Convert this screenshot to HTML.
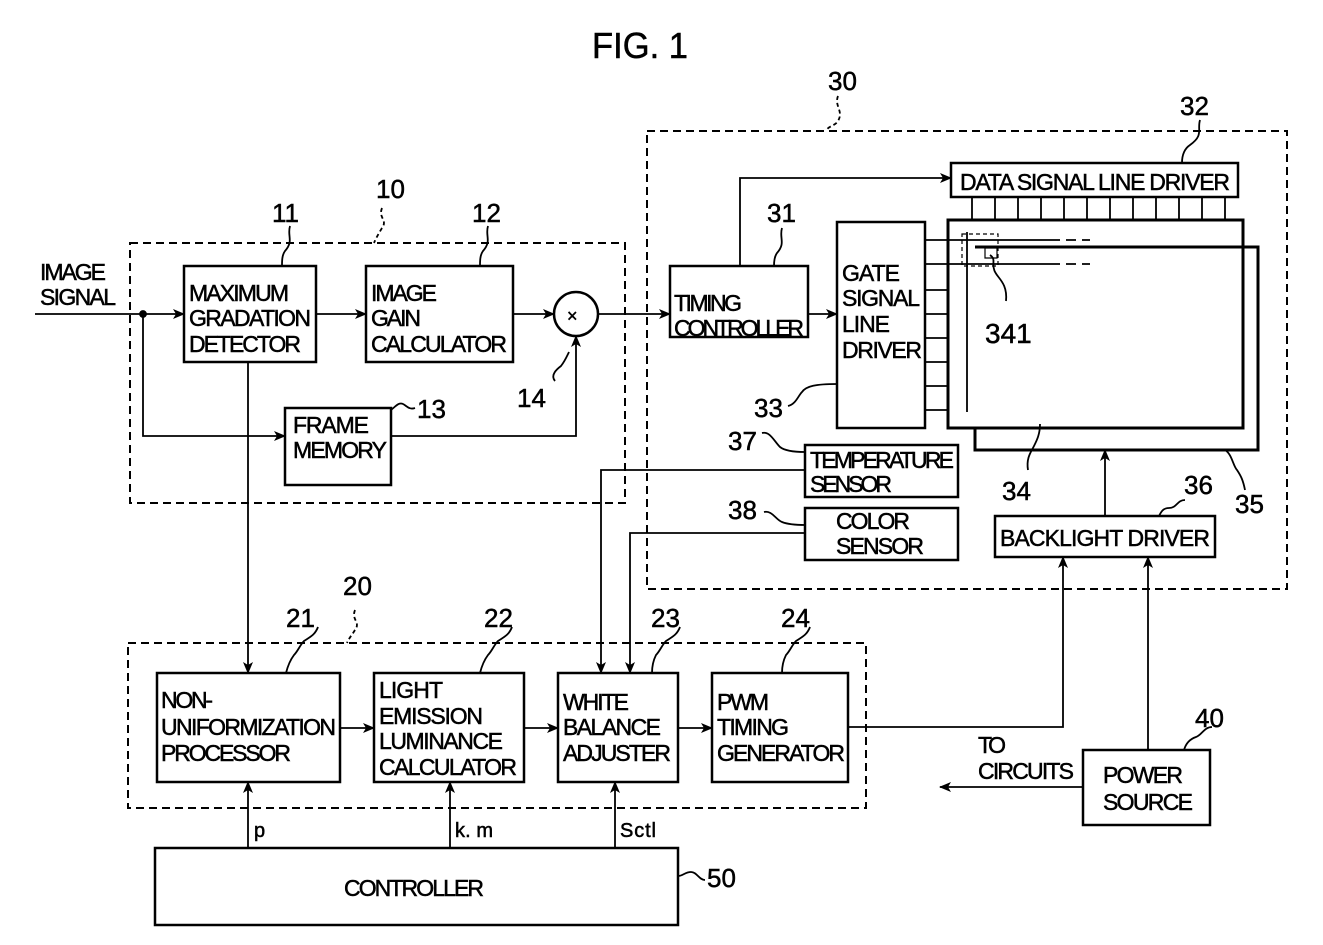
<!DOCTYPE html>
<html><head><meta charset="utf-8"><style>
html,body{margin:0;padding:0;background:#fff}
svg{display:block}
text{font-family:"Liberation Sans",sans-serif;fill:#000;stroke:#000;stroke-width:0.5}
</style></head><body>
<svg width="1323" height="945" viewBox="0 0 1323 945" xmlns="http://www.w3.org/2000/svg">
<defs><marker id="a" markerWidth="12" markerHeight="10" refX="11" refY="5" orient="auto" markerUnits="userSpaceOnUse"><path d="M0,0 L12,5 L0,10 L3,5 z" fill="#000"/></marker></defs>
<g stroke="#000" fill="none" stroke-width="2.5">
<rect x="647" y="131" width="640" height="458" stroke-dasharray="8,5" stroke-width="2"/>
<rect x="130" y="243" width="495" height="260" stroke-dasharray="8,5" stroke-width="2"/>
<rect x="128" y="643" width="738" height="165" stroke-dasharray="8,5" stroke-width="2"/>
<rect x="951" y="163" width="287" height="34"/>
<polyline points="975,247 1258,247 1258,450 975,450 975,428" stroke-width="3"/>
<rect x="948" y="220" width="295" height="208" stroke-width="3"/>
<rect x="837" y="222" width="88" height="206"/>
<rect x="670" y="266" width="138" height="71"/>
<rect x="805" y="445" width="153" height="52"/>
<rect x="805" y="508" width="153" height="52"/>
<rect x="995" y="516" width="220" height="41"/>
<rect x="184" y="266" width="132" height="96"/>
<rect x="366" y="266" width="147" height="96"/>
<circle cx="576" cy="314" r="22"/>
<rect x="285" y="408" width="106" height="77"/>
<rect x="157" y="673" width="183" height="109"/>
<rect x="374" y="673" width="150" height="109"/>
<rect x="558" y="673" width="120" height="109"/>
<rect x="712" y="673" width="136" height="109"/>
<rect x="155" y="848" width="523" height="77"/>
<rect x="1083" y="750" width="127" height="75"/>
</g>
<g stroke="#000" fill="none" stroke-width="1.8">
<path d="M972,197V220 M995,197V220 M1018,197V220 M1041,197V220 M1064,197V220 M1087,197V220 M1110,197V220 M1133,197V220 M1156,197V220 M1179,197V220 M1202,197V220 M1225,197V220"/>
<path d="M925,290H948 M925,314H948 M925,338H948 M925,362H948 M925,386H948 M925,410H948"/>
<path d="M925,240H1050 M925,264H1050"/>
<path d="M1050,240H1090 M1050,264H1090" stroke-dasharray="10,6"/>
<path d="M967,232V412"/>
<rect x="962" y="234" width="36" height="32" stroke-dasharray="4,3" stroke-width="1.2"/>
<path d="M985,248h12v10h-12z" stroke-width="1.2"/>
<path d="M35,314H184" marker-end="url(#a)"/>
<circle cx="143" cy="314" r="3" fill="#000"/>
<path d="M143,314V436H285" marker-end="url(#a)"/>
<path d="M391,436H576V336" marker-end="url(#a)"/>
<path d="M316,314H366" marker-end="url(#a)"/>
<path d="M513,314H554" marker-end="url(#a)"/>
<path d="M598,314H670" marker-end="url(#a)"/>
<path d="M248,362V673" marker-end="url(#a)"/>
<path d="M740,266V178H951" marker-end="url(#a)"/>
<path d="M808,314H837" marker-end="url(#a)"/>
<path d="M805,470H601V673" marker-end="url(#a)"/>
<path d="M805,533H630V673" marker-end="url(#a)"/>
<path d="M340,728H374" marker-end="url(#a)"/>
<path d="M524,728H558" marker-end="url(#a)"/>
<path d="M678,728H712" marker-end="url(#a)"/>
<path d="M848,727H1063V557" marker-end="url(#a)"/>
<path d="M1148,750V557" marker-end="url(#a)"/>
<path d="M1083,787H940" marker-end="url(#a)"/>
<path d="M1105,516V450" marker-end="url(#a)"/>
<path d="M248,848V782" marker-end="url(#a)"/>
<path d="M450,848V782" marker-end="url(#a)"/>
<path d="M615,848V782" marker-end="url(#a)"/>
<path d="M838,96c-4,10 6,15 0,25c-3,5 -10,5 -12,10" stroke-dasharray="4,3"/>
<path d="M382,208c-4,10 6,12 0,20c-3,5 -6,10 -8,15" stroke-dasharray="4,3"/>
<path d="M355,610c-4,10 6,12 0,20c-3,5 -6,8 -8,13" stroke-dasharray="4,3"/>
<path d="M290,226c-3,10 4,15 -5,25c-3,4 -3,10 -3,15"/>
<path d="M488,226c-3,10 4,15 -5,25c-3,4 -3,10 -3,15"/>
<path d="M782,228c-3,10 4,15 -5,25c-3,4 -3,10 -3,13"/>
<path d="M1200,120c-3,10 4,15 -10,25c-6,4 -8,10 -8,18"/>
<path d="M391,410c5,-4 8,-8 12,-6c4,2 6,6 12,4"/>
<path d="M555,381c-5,-6 2,-12 6,-15c4,-5 6,-10 8,-14"/>
<path d="M788,406c8,-2 10,-10 14,-14c4,-6 14,-8 35,-8"/>
<path d="M762,433c8,-2 12,8 18,14c5,4 15,5 25,5"/>
<path d="M764,512c8,-2 12,8 18,10c5,2 15,3 23,3"/>
<path d="M990,255c6,4 2,8 4,14c1,8 14,12 12,32"/>
<path d="M1028,470c-2,-12 3,-18 6,-24c3,-6 6,-12 6,-22"/>
<path d="M1245,490c-2,-10 -4,-14 -8,-20c-4,-4 -5,-16 -12,-20"/>
<path d="M1185,500c-8,0 -8,8 -16,8c-6,0 -8,4 -10,8"/>
<path d="M318,627c-3,8 -8,10 -14,14c-4,4 -6,10 -10,14c-3,4 -6,10 -8,18"/>
<path d="M512,627c-3,8 -8,10 -14,14c-4,4 -6,10 -10,14c-3,4 -6,10 -8,18"/>
<path d="M680,627c-3,8 -8,10 -14,14c-4,4 -6,10 -10,14c-3,6 -4,12 -4,18"/>
<path d="M810,627c-3,8 -8,10 -14,14c-4,4 -6,10 -10,14c-3,6 -4,12 -4,18"/>
<path d="M1212,727c-8,0 -10,8 -16,10c-6,2 -10,6 -12,13"/>
<path d="M705,880c-6,0 -8,-8 -14,-8c-6,0 -8,4 -13,4"/>
</g>
<g font-size="24">
<text x="592" y="58" font-size="36" textLength="96" lengthAdjust="spacingAndGlyphs">FIG. 1</text>
<text x="828" y="90" font-size="26">30</text>
<text x="376" y="198" font-size="26">10</text>
<text x="272" y="222" font-size="26">11</text>
<text x="472" y="222" font-size="26">12</text>
<text x="767" y="222" font-size="26">31</text>
<text x="1180" y="115" font-size="26">32</text>
<text x="985" y="343" font-size="28">341</text>
<text x="754" y="417" font-size="26">33</text>
<text x="728" y="450" font-size="26">37</text>
<text x="728" y="519" font-size="26">38</text>
<text x="1002" y="500" font-size="26">34</text>
<text x="1184" y="494" font-size="26">36</text>
<text x="1235" y="513" font-size="26">35</text>
<text x="517" y="407" font-size="26">14</text>
<text x="417" y="418" font-size="26">13</text>
<text x="343" y="595" font-size="26">20</text>
<text x="286" y="627" font-size="26">21</text>
<text x="484" y="627" font-size="26">22</text>
<text x="651" y="627" font-size="26">23</text>
<text x="781" y="627" font-size="26">24</text>
<text x="1195" y="727" font-size="26">40</text>
<text x="707" y="887" font-size="26">50</text>
<text x="567" y="322" font-size="18">×</text>
<g font-size="23" lengthAdjust="spacingAndGlyphs">
<text x="40" y="280" textLength="66">IMAGE</text>
<text x="40" y="305" textLength="76">SIGNAL</text>
<text x="189" y="301" textLength="100">MAXIMUM</text>
<text x="189" y="326" textLength="122">GRADATION</text>
<text x="189" y="352" textLength="112">DETECTOR</text>
<text x="371" y="301" textLength="66">IMAGE</text>
<text x="371" y="326" textLength="50">GAIN</text>
<text x="371" y="352" textLength="136">CALCULATOR</text>
<text x="293" y="433" textLength="76">FRAME</text>
<text x="293" y="458" textLength="94">MEMORY</text>
<text x="674" y="311" textLength="68">TIMING</text>
<text x="674" y="336" textLength="130">CONTROLLER</text>
<text x="842" y="281" textLength="58">GATE</text>
<text x="842" y="306" textLength="78">SIGNAL</text>
<text x="842" y="332" textLength="48">LINE</text>
<text x="842" y="358" textLength="80">DRIVER</text>
<text x="960" y="190" textLength="270">DATA  SIGNAL  LINE  DRIVER</text>
<text x="810" y="468" textLength="144">TEMPERATURE</text>
<text x="810" y="492" textLength="82">SENSOR</text>
<text x="836" y="529" textLength="74">COLOR</text>
<text x="836" y="554" textLength="88">SENSOR</text>
<text x="1000" y="546" textLength="210">BACKLIGHT  DRIVER</text>
<text x="161" y="708" textLength="52">NON-</text>
<text x="161" y="735" textLength="175">UNIFORMIZATION</text>
<text x="161" y="761" textLength="130">PROCESSOR</text>
<text x="379" y="698" textLength="64">LIGHT</text>
<text x="379" y="724" textLength="104">EMISSION</text>
<text x="379" y="749" textLength="124">LUMINANCE</text>
<text x="379" y="775" textLength="138">CALCULATOR</text>
<text x="563" y="710" textLength="66">WHITE</text>
<text x="563" y="735" textLength="98">BALANCE</text>
<text x="563" y="761" textLength="108">ADJUSTER</text>
<text x="717" y="710" textLength="52">PWM</text>
<text x="717" y="735" textLength="72">TIMING</text>
<text x="717" y="761" textLength="128">GENERATOR</text>
<text x="978" y="753" textLength="28">TO</text>
<text x="978" y="779" textLength="96">CIRCUITS</text>
<text x="1103" y="783" textLength="80">POWER</text>
<text x="1103" y="810" textLength="90">SOURCE</text>
<text x="344" y="896" textLength="140">CONTROLLER</text>
<text x="254" y="837" font-size="20">p</text>
<text x="455" y="837" font-size="20" textLength="38">k. m</text>
<text x="620" y="837" font-size="20" textLength="36">Sctl</text>
</g></g>
</svg>
</body></html>
